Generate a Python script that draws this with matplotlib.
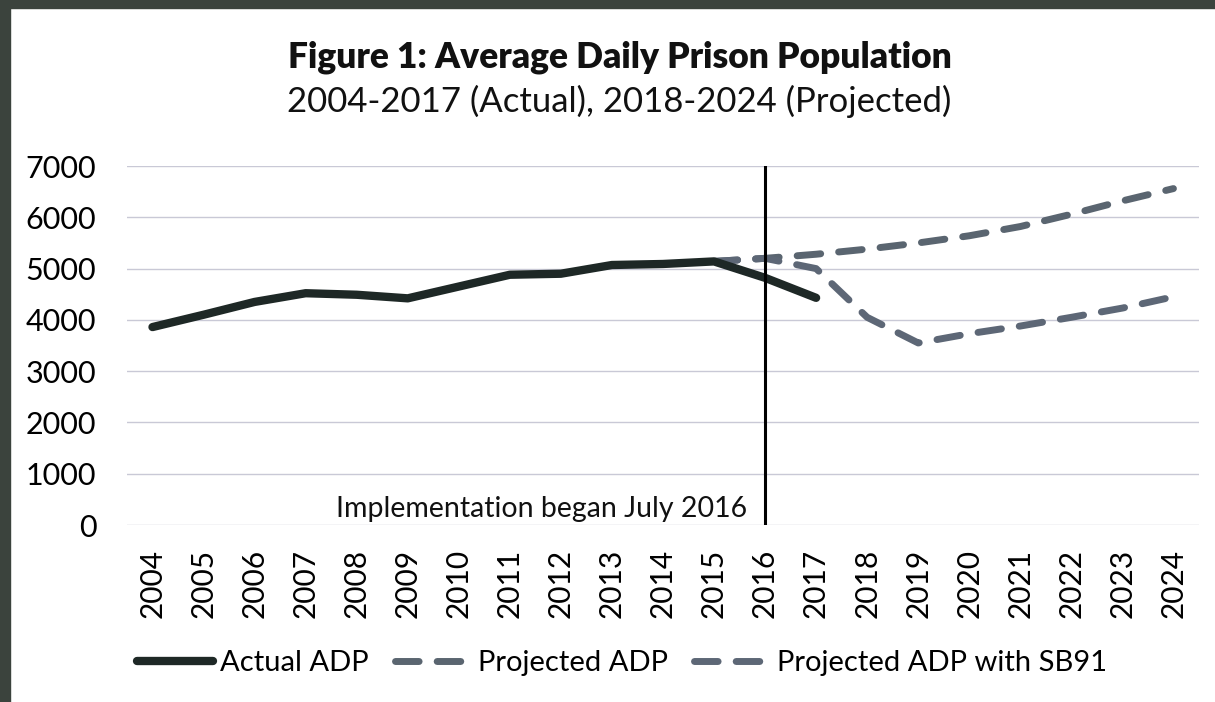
import matplotlib.pyplot as plt
from matplotlib.patches import Rectangle

# ***** data *****
years = [str(y) for y in range(2004, 2025)]
actual_adp = [3860, 4100, 4350, 4520, 4490, 4420, 4650, 4880, 4900, 5070, 5090, 5140, 4820, 4430]
projected_adp = [5140, 5200, 5280, 5380, 5500, 5640, 5820, 6060, 6320, 6560]
projected_sb91 = [5140, 5200, 5000, 4050, 3550, 3730, 3880, 4050, 4230, 4450]
yticks = [0, 1000, 2000, 3000, 4000, 5000, 6000, 7000]
impl_year = '2016'

plt.rcParams['font.family'] = ['Lato', 'DejaVu Sans']

fig = plt.figure(figsize=(12.15, 7.02), dpi=100)
fig.patch.set_facecolor('white')
# dark scanner border on top / left
fig.add_artist(Rectangle((0, 0.989), 1, 0.011, transform=fig.transFigure, color='#3b433d', zorder=0))
fig.add_artist(Rectangle((0, 0), 0.0085, 1, transform=fig.transFigure, color='#3b433d', zorder=0))

ax = fig.add_axes([0.1045, 0.2521, 0.8823, 0.5114])

x_act = list(range(len(actual_adp)))
start = years.index('2015')
x_proj = list(range(start, start + len(projected_adp)))

ax.plot(x_proj, projected_adp, color='#5a6570', lw=5, dashes=(3.4, 2.6),
        dash_capstyle='round', label='Projected ADP', zorder=3)
ax.plot(x_proj, projected_sb91, color='#5d6776', lw=5, dashes=(3.4, 2.6),
        dash_capstyle='round', label='Projected ADP with SB91', zorder=3)
ax.plot(x_act, actual_adp, color='#1e2826', lw=6, solid_capstyle='round',
        label='Actual ADP', zorder=4)

xi = years.index(impl_year)
ax.axvline(xi, color='black', lw=2.2, zorder=5)
ax.text(xi - 0.35, 60, 'Implementation began July 2016', ha='right', va='bottom',
        fontsize=20.5, color='#111111')

ax.set_xlim(-0.5, len(years) - 0.5)
ax.set_ylim(0, 7000)
ax.set_yticks(yticks)
ax.set_yticklabels([str(v) for v in yticks], fontsize=22)
ax.set_xticks(range(len(years)))
ax.set_xticklabels(years, rotation=90, fontsize=21.5)
ax.tick_params(axis='y', length=0, pad=22)
ax.tick_params(axis='x', length=0, pad=17)
ax.grid(axis='y', color='#c9c9d6', lw=1)
ax.set_axisbelow(True)
for s in ax.spines.values():
    s.set_visible(False)

fig.text(0.51, 0.918, 'Figure 1: Average Daily Prison Population', ha='center', va='center',
         fontsize=25.5, fontweight='heavy', color='#111111')
fig.text(0.51, 0.855, '2004-2017 (Actual), 2018-2024 (Projected)', ha='center', va='center',
         fontsize=25, color='#111111')

h, l = ax.get_legend_handles_labels()
order = [2, 0, 1]
fig.legend([h[i] for i in order], [l[i] for i in order], loc='center', ncol=3,
           bbox_to_anchor=(0.512, 0.055), frameon=False, fontsize=21,
           handlelength=2.6, handletextpad=0.25, columnspacing=0.9)

fig.savefig('out.png', dpi=100)
